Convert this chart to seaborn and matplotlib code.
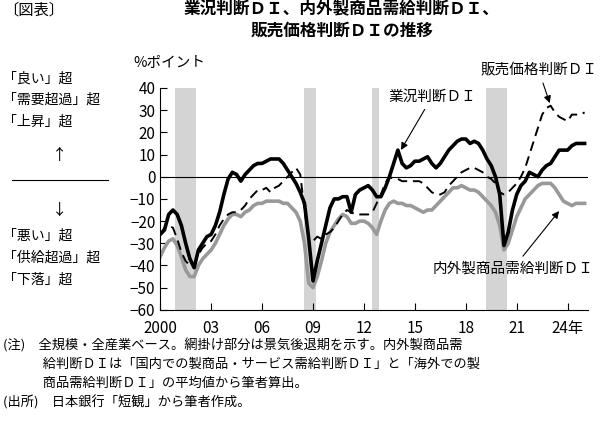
import numpy as np
import pandas as pd
import seaborn as sns
import matplotlib
matplotlib.use("Agg")
import matplotlib.pyplot as plt

plt.rcParams["font.family"] = ["Noto Sans CJK JP", "DejaVu Sans"]

business_di = [-26, -24, -17, -15, -17, -22, -30, -37, -41, -33, -30, -27,
               -26, -22, -16, -8, -1, 2, 1, -2, 1, 3, 5, 6, 6, 7, 8, 8,
               8, 6, 3, 0, -3, -7, -12, -28, -47, -38, -30, -22,
               -14, -10, -10, -9, -9, -16, -8, -6, -5, -4, -6, -9,
               -9, -5, 0, 6, 12, 6, 4, 5, 7, 7, 8, 9, 6, 4, 6, 9,
               12, 14, 16, 17, 17, 15, 16, 15, 12, 8, 5, 0,
               -8, -31, -25, -15, -8, -4, -2, 2, 1, 0, 3, 5,
               6, 9, 12, 12, 12, 14, 15, 15, 15]
price_di = [-26, -23, -22, -23, -28, -34, -38, -40, -40, -35, -32, -30,
            -29, -26, -22, -19, -17, -16, -16, -15, -13, -10, -8, -6,
            -6, -5, -7, -5, -4, -2, 0, 2, 4, 1, -15, -28,
            -29, -27, -28, -26, -25, -23, -20, -17, -15, -16, -17, -17,
            -17, -17, -16, -12, -8, -3, 0, -1, -1, -2, -2, -2,
            -2, -2, -3, -5, -7, -8, -8, -7, -4, -2, 0, 2,
            3, 4, 4, 3, 2, 0, -1, -3, -7, -8, -7, -5,
            -3, 0, 4, 10, 16, 22, 28, 31, 32, 29, 27, 26, 25, 28, 28, 28, 29]
supply_demand_di = [-36, -32, -29, -28, -31, -36, -42, -45, -45, -40, -37, -35,
                    -33, -30, -26, -22, -19, -17, -17, -18, -16, -15, -13, -12,
                    -12, -11, -11, -11, -11, -12, -12, -14, -16, -20, -30, -48,
                    -50, -45, -38, -30, -25, -22, -19, -17, -18, -21, -21, -20,
                    -20, -21, -23, -26, -20, -15, -12, -11, -12, -12, -13, -13,
                    -14, -15, -16, -15, -15, -13, -11, -9, -7, -5, -5, -4,
                    -5, -6, -6, -7, -9, -11, -13, -16, -22, -33, -30, -24,
                    -18, -14, -10, -8, -6, -4, -3, -3, -3, -5, -8, -11,
                    -12, -13, -12, -12, -12]
recessions = [(2000.9, 2002.1), (2008.5, 2009.2), (2012.5, 2012.9), (2019.2, 2020.4)]
xtick_years = [2000, 2003, 2006, 2009, 2012, 2015, 2018, 2021, 2024]
xtick_labels = ["2000", "03", "06", "09", "12", "15", "18", "21", "24年"]

t = 2000 + np.arange(len(business_di)) / 4
df = pd.DataFrame({"t": t, "business": business_di, "price": price_di, "sd": supply_demand_di})

fig = plt.figure(figsize=(6, 4.21), dpi=100)
ax = fig.add_axes([0.267, 0.264, 0.713, 0.527])
for a, b in recessions:
    ax.axvspan(a, b, color="#d4d4d4", lw=0, zorder=0)
ax.axhline(0, color="black", lw=0.8, zorder=1)
sns.lineplot(data=df, x="t", y="sd", ax=ax, color="#999999", lw=2.6, zorder=2)
sns.lineplot(data=df, x="t", y="price", ax=ax, color="black", lw=1.4, ls=(0, (5, 3)), zorder=3)
sns.lineplot(data=df, x="t", y="business", ax=ax, color="black", lw=2.6, zorder=4)

ax.set_xlim(2000, 2025.2)
ax.set_ylim(-60, 40)
ax.set_yticks(range(-60, 41, 10))
ax.set_yticklabels([str(v) if v >= 0 else "−" + str(-v) for v in range(-60, 41, 10)])
ax.set_xticks(xtick_years)
ax.set_xticklabels(xtick_labels)
ax.tick_params(direction="in", labelsize=11, length=5)
ax.tick_params(axis="x", pad=7)
ax.set_xlabel("")
ax.set_ylabel("")
for s in ["top", "right"]:
    ax.spines[s].set_visible(False)

ax.annotate("業況判断ＤＩ", xy=(2014.1, 11), xytext=(2016.0, 34), fontsize=10.5, ha="center",
            arrowprops=dict(arrowstyle="-|>", color="black", lw=0.8))
ax.annotate("販売価格判断ＤＩ", xy=(2023.0, 32), xytext=(2022.3, 46), fontsize=10.5, ha="center",
            arrowprops=dict(arrowstyle="-|>", color="black", lw=0.8), annotation_clip=False)
ax.annotate("内外製商品需給判断ＤＩ", xy=(2023.6, -14.5), xytext=(2020.8, -43), fontsize=10.5, ha="center",
            arrowprops=dict(arrowstyle="-|>", color="black", lw=0.8))
fig.text(0.222, 0.840, "%ポイント", fontsize=10.5)

fig.text(0.005, 0.965, "〔図表〕", fontsize=11)
fig.text(0.57, 0.965, "業況判断ＤＩ、内外製商品需給判断ＤＩ、", fontsize=12, weight="bold", ha="center")
fig.text(0.57, 0.915, "販売価格判断ＤＩの推移", fontsize=12, weight="bold", ha="center")

for i, s in enumerate(["「良い」超", "「需要超過」超", "「上昇」超"]):
    fig.text(0.005, 0.805 - i * 0.052, s, fontsize=10)
fig.text(0.1, 0.62, "↑", fontsize=11, ha="center")
fig.add_artist(plt.Line2D([0.02, 0.18], [0.572, 0.572], color="black", lw=0.8))
fig.text(0.1, 0.49, "↓", fontsize=11, ha="center")
for i, s in enumerate(["「悪い」超", "「供給超過」超", "「下落」超"]):
    fig.text(0.005, 0.43 - i * 0.052, s, fontsize=10)

notes = ["(注)　全規模・全産業ベース。網掛け部分は景気後退期を示す。内外製商品需",
         "　　　給判断ＤＩは「国内での製商品・サービス需給判断ＤＩ」と「海外での製",
         "　　　商品需給判断ＤＩ」の平均値から筆者算出。",
         "(出所)　日本銀行「短観」から筆者作成。"]
for i, s in enumerate(notes):
    fig.text(0.005, 0.17 - i * 0.045, s, fontsize=9.5)

fig.savefig("out.png", dpi=100)
